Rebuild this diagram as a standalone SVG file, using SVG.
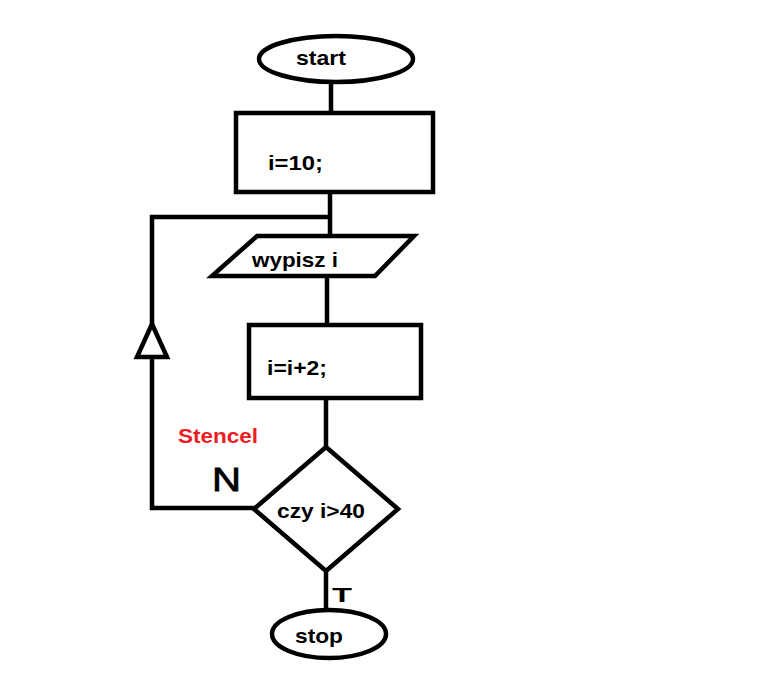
<svg xmlns="http://www.w3.org/2000/svg" width="761" height="685" viewBox="0 0 761 685">
<style>
.s{fill:#fff;stroke:#000;stroke-width:4.5;}
.c{fill:none;stroke:#000;stroke-width:4.5;}
.t{font-family:"Liberation Sans",Arial,sans-serif;font-weight:bold;font-size:21px;fill:#000;}
</style>
<rect width="761" height="685" fill="#fff"/>
<g id="connectors">
<line class="c" x1="331" y1="82" x2="331" y2="113"/>
<line class="c" x1="330" y1="193" x2="330" y2="236"/>
<polyline class="c" points="330,217 152,217 152,508 254,508"/>
<line class="c" x1="327" y1="277" x2="327" y2="325"/>
<line class="c" x1="326" y1="399" x2="326" y2="446"/>
<line class="c" x1="326" y1="571" x2="326" y2="610"/>
<polygon class="s" points="152,324 137,357 167,357"/>
<text x="212" y="491" font-family="'Liberation Sans',Arial,sans-serif" font-size="33" textLength="29" lengthAdjust="spacingAndGlyphs" stroke="#000" stroke-width="0.8">N</text>
<text x="332" y="602" class="t" font-size="28" textLength="20" lengthAdjust="spacingAndGlyphs">T</text>
</g>
<g id="start">
<ellipse class="s" cx="336" cy="59" rx="77" ry="23"/>
<text class="t" x="296" y="65" textLength="50" lengthAdjust="spacingAndGlyphs">start</text>
</g>
<g id="init">
<rect class="s" x="236" y="113" width="197" height="79"/>
<text class="t" x="268" y="170" textLength="55" lengthAdjust="spacingAndGlyphs">i=10;</text>
</g>
<g id="output">
<polygon class="s" points="257,236 414,236 375,276 212,276"/>
<text class="t" x="252" y="267" textLength="86" lengthAdjust="spacingAndGlyphs">wypisz i</text>
</g>
<g id="increment">
<rect class="s" x="249" y="325" width="172" height="73"/>
<text class="t" x="267" y="375" textLength="60" lengthAdjust="spacingAndGlyphs">i=i+2;</text>
</g>
<g id="decision">
<polygon class="s" points="326,447 398,509 326,571 254,509"/>
<text class="t" x="277" y="518" textLength="88" lengthAdjust="spacingAndGlyphs">czy i&gt;40</text>
</g>
<g id="stop">
<ellipse class="s" cx="329" cy="634" rx="57" ry="24"/>
<text class="t" x="295" y="643" textLength="48" lengthAdjust="spacingAndGlyphs">stop</text>
</g>
<g id="label">
<text x="178" y="443" font-family="'Liberation Sans',Arial,sans-serif" font-weight="bold" font-size="20" fill="#ed1c24" textLength="80" lengthAdjust="spacingAndGlyphs">Stencel</text>
</g>
</svg>
